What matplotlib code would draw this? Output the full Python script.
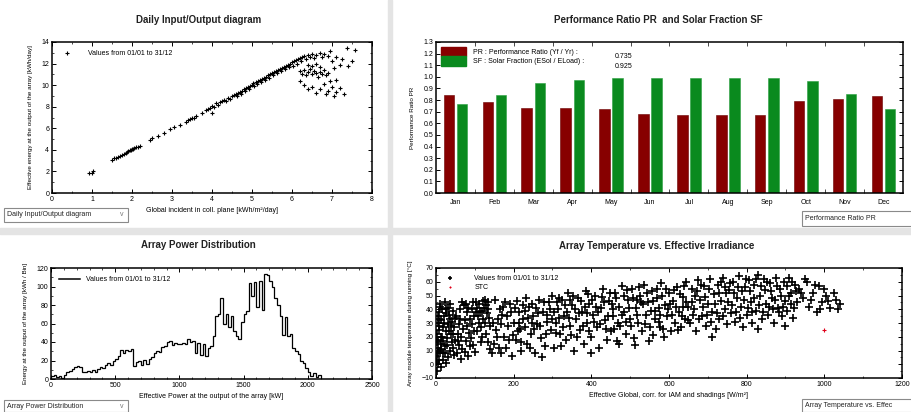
import numpy as np
import matplotlib
matplotlib.use('Agg')
import matplotlib.pyplot as plt
from matplotlib.patches import Patch, Rectangle
from matplotlib.lines import Line2D
from matplotlib.ticker import MultipleLocator, FormatStrFormatter

plt.rcParams['font.family'] = ['Liberation Sans', 'DejaVu Sans']

# ---- data ----
# daily input / output (kWh/m2/day, kWh/day)
io_pts = [(0.92, 1.85), (1.03, 2.0), (1.0, 1.9),
          (1.5, 3.1), (1.55, 3.2), (1.6, 3.25), (1.65, 3.35), (1.7, 3.4), (1.75, 3.5),
          (1.8, 3.6), (1.85, 3.75), (1.88, 3.8), (1.9, 3.9), (1.95, 4.0), (1.98, 3.95),
          (2.0, 4.1), (2.02, 4.05), (2.05, 4.2), (2.1, 4.25), (2.15, 4.3), (2.2, 4.4),
          (2.45, 4.9), (2.5, 5.1), (2.65, 5.3), (2.8, 5.6), (2.95, 5.9), (3.05, 6.1),
          (3.2, 6.3), (3.35, 6.6), (3.4, 6.75), (3.45, 6.85), (3.5, 7.0), (3.55, 6.95),
          (3.6, 7.1), (3.75, 7.4), (3.85, 7.7), (3.9, 7.8), (3.95, 7.9), (4.0, 8.1),
          (4.0, 7.4), (4.05, 8.0), (4.1, 8.3), (4.15, 8.2), (4.2, 8.45), (4.25, 8.5),
          (4.3, 8.6), (4.35, 8.55), (4.4, 8.8), (4.45, 8.7), (4.5, 9.0), (4.55, 9.1),
          (4.6, 9.2), (4.62, 9.0), (4.65, 9.3), (4.7, 9.4), (4.72, 9.2), (4.75, 9.5),
          (4.8, 9.6), (4.82, 9.45), (4.85, 9.7), (4.9, 9.8), (4.92, 9.6), (4.95, 9.9),
          (5.0, 10.0), (5.02, 10.2), (5.05, 9.9), (5.1, 10.3), (5.12, 10.1), (5.15, 10.4),
          (5.2, 10.5), (5.22, 10.3), (5.25, 10.6), (5.3, 10.7), (5.32, 10.5), (5.35, 10.8),
          (5.4, 10.9), (5.42, 10.7), (5.45, 11.0), (5.5, 11.1), (5.52, 10.9), (5.55, 11.2),
          (5.6, 11.3), (5.62, 11.1), (5.65, 11.4), (5.7, 11.5), (5.72, 11.3), (5.75, 11.6),
          (5.8, 11.7), (5.82, 11.5), (5.85, 11.8), (5.9, 11.9), (5.92, 11.7), (5.95, 12.0),
          (6.0, 12.1), (6.02, 11.8), (6.05, 12.2), (6.1, 12.3), (6.12, 12.0), (6.15, 12.4),
          (6.2, 12.5), (6.22, 12.2), (6.25, 12.6), (6.3, 12.7), (6.35, 12.4), (6.4, 12.8),
          (6.45, 12.6), (6.5, 12.9), (6.55, 12.5), (6.6, 12.8), (6.7, 13.0), (6.75, 12.6),
          (6.8, 12.9), (6.9, 12.7),
          (6.2, 11.3), (6.25, 11.0), (6.3, 11.4), (6.35, 10.9), (6.4, 11.2), (6.45, 11.5),
          (6.5, 11.0), (6.55, 11.3), (6.6, 11.1), (6.65, 10.8), (6.7, 11.2), (6.75, 11.0),
          (6.8, 11.4), (6.85, 10.9), (6.9, 11.1), (6.5, 11.8), (6.6, 12.0), (6.4, 11.9),
          (6.7, 11.7),
          (6.3, 10.0), (6.4, 9.6), (6.5, 9.8), (6.6, 9.3), (6.7, 9.6), (6.8, 10.1),
          (6.85, 9.2), (6.9, 9.5), (7.0, 9.8), (7.05, 9.0), (7.1, 9.4), (7.2, 9.7),
          (7.3, 9.2), (6.95, 10.4), (6.2, 10.4), (7.1, 10.5),
          (6.95, 13.2), (7.0, 12.2), (7.1, 12.6), (7.2, 11.9), (7.25, 12.4), (7.37, 13.4),
          (7.5, 12.2), (7.58, 13.25), (7.05, 11.6), (7.4, 11.8)]

# monthly performance ratio and solar fraction
months = ['Jan', 'Feb', 'Mar', 'Apr', 'May', 'Jun', 'Jul', 'Aug', 'Sep', 'Oct', 'Nov', 'Dec']
pr = [0.845, 0.78, 0.73, 0.73, 0.72, 0.68, 0.67, 0.67, 0.675, 0.795, 0.81, 0.838]
sf = [0.77, 0.845, 0.95, 0.975, 0.99, 0.99, 0.99, 0.99, 0.99, 0.965, 0.855, 0.72]
pr_year = '0.735'
sf_year = '0.925'

# array power distribution, 20 kW bins starting at 0
bin_width = 20
power_bins = [3, 4, 2, 3, 1, 4, 8, 9, 11, 13,
              14, 13, 8, 8, 9, 8, 10, 8, 11, 13,
              12, 15, 17, 15, 20, 22, 25, 31, 28, 31,
              30, 32, 14, 18, 19, 15, 21, 16, 22, 24,
              28, 30, 29, 35, 36, 40, 41, 37, 39, 38,
              38, 39, 38, 43, 40, 41, 28, 39, 26, 38,
              25, 34, 36, 46, 68, 70, 88, 60, 70, 56,
              68, 52, 46, 43, 62, 70, 74, 104, 90, 105,
              78, 106, 75, 113, 112, 106, 100, 88, 80, 68,
              48, 67, 47, 49, 34, 30, 27, 20, 17, 12,
              8, 3, 7, 2, 4]

# array temperature vs effective irradiance (W/m2, degC)
temp_pts = [(2, -5), (5, 0), (8, 3), (3, 6), (10, 10), (4, 12), (12, 15), (6, 18), (15, 20), (2, 22),
            (9, 25), (18, 27), (5, 30), (14, 32), (20, 35), (7, 38), (25, 40), (11, 42), (30, 5), (35, 10),
            (22, 13), (40, 16), (28, 19), (45, 22), (33, 24), (38, 28), (42, 31), (48, 34), (27, 37), (36, 44),
            (1, 2), (17, 8), (26, 1), (46, 7), (13, -2), (31, 29), (44, 39), (19, 17), (8, 33), (23, 45),
            (4, 35), (7, 28), (12, 20), (16, 40), (21, 30), (24, 8), (29, 14), (34, 36), (39, 22), (43, 12),
            (47, 27), (10, 44), (3, 16), (18, 3), (37, 33), (26, 24), (14, 11), (32, 41), (49, 18), (6, 8),
            (55, 8), (60, 14), (65, 20), (70, 26), (75, 32), (80, 38), (58, 29), (68, 11), (78, 17), (85, 23),
            (92, 29), (98, 35), (105, 41), (112, 44), (120, 46), (128, 43), (135, 40), (95, 45), (102, 38), (118, 39),
            (125, 47), (132, 37), (110, 30), (88, 13), (100, 9), (115, 16), (130, 22), (62, 40), (72, 43), (83, 6),
            (138, 28), (106, 24), (122, 33), (140, 11), (91, 19),
            (52, 35), (57, 22), (63, 33), (66, 45), (74, 9), (79, 28), (82, 41), (87, 33), (93, 40), (97, 24),
            (103, 45), (108, 35), (113, 38), (117, 27), (124, 41), (127, 30), (133, 45), (137, 34), (56, 17), (77, 44),
            (96, 14), (119, 20), (134, 16), (64, 4),
            (145, 8), (150, 15), (155, 25), (160, 33), (165, 40), (170, 36), (175, 20), (180, 12), (185, 28), (190, 44),
            (195, 6), (200, 30), (205, 18), (210, 24), (215, 38), (220, 10), (225, 33), (230, 27), (235, 15), (240, 42),
            (245, 22), (250, 35), (255, 8), (260, 29), (265, 47), (270, 19), (275, 38), (280, 13), (285, 31), (290, 45),
            (295, 25), (300, 50), (152, 47), (178, 45), (208, 46), (232, 48), (258, 41), (287, 36), (242, 12), (272, 5),
            (198, 21), (228, 39),
            (148, 30), (158, 20), (163, 12), (168, 29), (173, 42), (183, 35), (188, 18), (193, 38), (203, 41), (213, 30),
            (218, 16), (223, 43), (238, 34), (248, 44), (253, 26), (263, 37), (268, 28), (278, 45), (283, 22), (293, 40),
            (298, 33), (168, 8), (246, 30), (216, 26),
            (305, 12), (310, 30), (315, 40), (320, 22), (325, 47), (330, 35), (335, 18), (340, 52), (345, 28), (350, 43),
            (355, 10), (360, 33), (365, 48), (370, 25), (375, 38), (380, 15), (385, 53), (390, 30), (395, 44), (400, 20),
            (405, 36), (410, 50), (415, 27), (420, 12), (425, 41), (430, 55), (435, 32), (440, 18), (445, 46), (450, 24),
            (312, 45), (338, 38), (362, 20), (388, 37), (412, 42), (438, 26), (322, 13), (398, 8), (428, 49),
            (303, 38), (308, 23), (318, 48), (328, 27), (333, 43), (343, 34), (348, 21), (353, 50), (358, 40), (368, 37),
            (373, 46), (378, 28), (383, 42), (393, 24), (403, 47), (408, 31), (418, 38), (423, 29), (433, 45), (443, 35),
            (448, 52), (317, 34), (346, 47), (392, 51),
            (455, 35), (460, 52), (465, 17), (470, 42), (475, 28), (480, 57), (485, 38), (490, 22), (495, 47), (500, 33),
            (505, 55), (510, 19), (515, 41), (520, 30), (525, 50), (530, 24), (535, 58), (540, 36), (545, 45), (550, 27),
            (555, 53), (560, 21), (565, 39), (570, 48), (575, 31), (580, 59), (585, 26), (590, 43), (595, 35), (600, 52),
            (605, 24), (610, 46), (615, 30), (620, 56), (625, 38), (630, 27), (635, 49), (640, 33), (645, 60), (650, 42),
            (472, 15), (512, 14), (548, 17), (588, 20), (622, 25), (468, 30), (532, 44), (598, 40),
            (452, 44), (458, 26), (463, 48), (478, 36), (483, 50), (488, 31), (493, 54), (498, 41), (503, 28), (508, 48),
            (518, 36), (523, 56), (528, 45), (538, 29), (543, 52), (553, 39), (558, 46), (563, 33), (568, 55), (573, 41),
            (578, 36), (583, 50), (593, 55), (603, 44), (608, 36), (613, 54), (618, 42), (628, 51), (633, 35), (638, 57),
            (643, 45), (648, 32), (457, 40), (517, 47), (577, 27), (637, 42),
            (655, 30), (660, 55), (665, 40), (670, 24), (675, 61), (680, 47), (685, 35), (690, 57), (695, 28), (700, 44),
            (705, 62), (710, 38), (715, 51), (720, 26), (725, 58), (730, 33), (735, 46), (740, 63), (745, 40), (750, 29),
            (755, 54), (760, 37), (765, 60), (770, 31), (775, 48), (780, 64), (785, 42), (790, 27), (795, 56), (800, 36),
            (805, 61), (810, 45), (815, 30), (820, 58), (825, 39), (830, 65), (835, 50), (840, 33), (845, 62), (850, 44),
            (855, 36), (860, 59), (865, 48), (870, 30), (875, 63), (880, 41), (885, 55), (890, 35), (895, 60), (900, 46),
            (905, 39), (910, 63), (915, 52), (920, 34), (925, 58), (930, 45), (668, 50), (712, 20), (748, 52), (788, 53),
            (828, 26), (868, 40), (898, 28),
            (658, 45), (663, 36), (673, 53), (678, 33), (683, 58), (688, 42), (693, 49), (698, 36), (703, 55), (708, 31),
            (718, 44), (723, 37), (728, 52), (733, 60), (738, 35), (743, 56), (753, 45), (758, 59), (763, 43), (768, 52),
            (773, 38), (778, 56), (783, 34), (793, 47), (798, 62), (803, 41), (808, 53), (813, 38), (818, 48), (823, 62),
            (833, 43), (838, 57), (843, 38), (848, 54), (853, 60), (858, 42), (863, 53), (873, 47), (878, 57), (883, 38),
            (888, 50), (893, 42), (903, 57), (908, 50), (913, 44), (918, 60), (923, 41), (928, 53),
            (935, 55), (945, 48), (955, 60), (960, 42), (970, 52), (980, 38), (985, 57), (995, 45), (1005, 50), (1015, 41),
            (1030, 47), (1040, 44), (950, 62), (990, 40),
            (940, 52), (965, 47), (975, 58), (1000, 55), (1010, 46), (1025, 52), (1035, 40)]
stc_g = [1000]
stc_t = [25]

legend_txt = 'Values from 01/01 to 31/12'
W, H = 912, 412


def fr(x0, y0, x1, y1):
    # pixel box -> figure fraction rect
    return [x0 / W, 1 - y1 / H, (x1 - x0) / W, (y1 - y0) / H]


def style(ax):
    for s in ax.spines.values():
        s.set_linewidth(1.1)
    ax.tick_params(which='both', direction='in', top=True, right=True, labelsize=5, pad=2)
    ax.tick_params(which='major', length=3, width=0.7)
    ax.tick_params(which='minor', length=1.5, width=0.5)


fig = plt.figure(figsize=(9.12, 4.12), dpi=100)
fig.patch.set_facecolor('white')

# separators between the four panels
fig.add_artist(Rectangle((388 / W, 0), 4 / W, 1, transform=fig.transFigure, color='#e4e4e4', zorder=0))
fig.add_artist(Rectangle((0, 1 - 234 / H), 1, 6 / H, transform=fig.transFigure, color='#e4e4e4', zorder=0))

# ---- Daily input/output ----
ax1 = fig.add_axes(fr(52, 42, 372, 193))
gx, gy = zip(*io_pts)
ax1.plot(gx, gy, '+', color='black', ms=3.5, mew=0.8, label=legend_txt)
ax1.set_xlim(0, 8)
ax1.set_ylim(0, 14)
ax1.xaxis.set_major_locator(MultipleLocator(1))
ax1.yaxis.set_major_locator(MultipleLocator(2))
ax1.xaxis.set_minor_locator(MultipleLocator(0.5))
ax1.yaxis.set_minor_locator(MultipleLocator(1))
style(ax1)
ax1.set_xlabel('Global incident in coll. plane [kWh/m\u00b2/day]', fontsize=5, labelpad=3)
ax1.set_ylabel('Effective energy at the output of the array [kWh/day]', fontsize=4.5, labelpad=6)
ax1.legend(loc='upper left', frameon=False, fontsize=5, handletextpad=2, borderaxespad=0.8,
           markerscale=0.8)

# ---- PR and SF ----
ax2 = fig.add_axes(fr(436, 42, 903, 193))
xm = np.arange(len(months))
ax2.bar(xm - 0.17, pr, width=0.27, color='#870000', edgecolor='#6a0000', lw=0.4)
ax2.bar(xm + 0.17, sf, width=0.27, color='#0a8a1e', edgecolor='#2aa040', lw=0.4)
ax2.set_xlim(-0.5, 11.5)
ax2.set_ylim(0, 1.3)
ax2.set_xticks(xm)
ax2.set_xticklabels(months)
ax2.set_xticks(xm[:-1] + 0.5, minor=True)
ax2.yaxis.set_major_locator(MultipleLocator(0.1))
ax2.yaxis.set_major_formatter(FormatStrFormatter('%.1f'))
style(ax2)
ax2.tick_params(axis='x', which='major', length=0, pad=4)
ax2.tick_params(axis='x', which='minor', length=3)
ax2.set_ylabel('Performance Ratio PR', fontsize=4.5, labelpad=6)
hnd = [Patch(color='#870000'), Patch(color='#0a8a1e')]
ax2.legend(hnd, ['PR : Performance Ratio (Yf / Yr) :', 'SF : Solar Fraction (ESol / ELoad) :'],
           loc='upper left', frameon=False, fontsize=5, handlelength=3.6, handleheight=1.7,
           labelspacing=0, handletextpad=1.0, borderaxespad=0.3)
ax2.text(0.383, 0.905, pr_year, transform=ax2.transAxes, fontsize=5, va='center')
ax2.text(0.383, 0.838, sf_year, transform=ax2.transAxes, fontsize=5, va='center')

# ---- Array power distribution ----
ax3 = fig.add_axes(fr(51, 268, 372, 379))
edges = np.arange(len(power_bins) + 1) * bin_width
ax3.stairs(power_bins, edges, color='black', lw=0.9, label=legend_txt)
ax3.set_xlim(0, 2500)
ax3.set_ylim(0, 120)
ax3.xaxis.set_major_locator(MultipleLocator(500))
ax3.xaxis.set_minor_locator(MultipleLocator(100))
ax3.yaxis.set_major_locator(MultipleLocator(20))
ax3.yaxis.set_minor_locator(MultipleLocator(10))
style(ax3)
ax3.set_xlabel('Effective Power at the output of the array [kW]', fontsize=5, labelpad=3)
ax3.set_ylabel('Energy at the output of the array [kWh / Bin]', fontsize=4.5, labelpad=6)
ax3.legend(handles=[Line2D([], [], color='black', lw=1.1)], labels=[legend_txt],
           loc='upper left', frameon=False, fontsize=5, handlelength=3, borderaxespad=0.8)

# ---- Array temperature vs effective irradiance ----
ax4 = fig.add_axes(fr(436, 268, 902, 378))
tg, tt = zip(*temp_pts)
ax4.plot(tg, tt, '+', color='black', ms=6, mew=1.2, label=legend_txt)
ax4.plot(stc_g, stc_t, '+', color='#e0001a', ms=3.5, mew=0.8, label='STC')
ax4.set_xlim(0, 1200)
ax4.set_ylim(-10, 70)
ax4.xaxis.set_major_locator(MultipleLocator(200))
ax4.xaxis.set_minor_locator(MultipleLocator(100))
ax4.yaxis.set_major_locator(MultipleLocator(10))
ax4.yaxis.set_minor_locator(MultipleLocator(5))
style(ax4)
ax4.set_xlabel('Effective Global, corr. for IAM and shadings [W/m\u00b2]', fontsize=5, labelpad=3)
ax4.set_ylabel('Array module temperature during running [\u00b0C]', fontsize=4.5, labelpad=6)
ax4.legend(loc='upper left', frameon=False, fontsize=5, handletextpad=2.5, borderaxespad=0.6,
           labelspacing=0.3, markerscale=0.5)

# ---- panel titles ----
tkw = dict(fontsize=7, fontweight='bold', ha='center', va='center', color='#222222')
fig.text(199 / W, 1 - 20 / H, 'Daily Input/Output diagram', **tkw)
fig.text(658 / W, 1 - 20 / H, 'Performance Ratio PR  and Solar Fraction SF', **tkw)
fig.text(198 / W, 1 - 245 / H, 'Array Power Distribution', **tkw)
fig.text(657 / W, 1 - 246 / H, 'Array Temperature vs. Effective Irradiance', **tkw)

# ---- selector boxes ----
boxes = [((4, 208, 128, 222), 'Daily Input/Output diagram'),
         ((802, 211, 912, 226), 'Performance Ratio PR'),
         ((4, 400, 128, 412), 'Array Power Distribution'),
         ((802, 399, 912, 412), 'Array Temperature vs. Effec')]
for (x0, y0, x1, y1), txt in boxes:
    fig.add_artist(Rectangle((x0 / W, 1 - y1 / H), (x1 - x0) / W, (y1 - y0) / H,
                             transform=fig.transFigure, fc='white', ec='#8a8a8a', lw=0.8))
    fig.text((x0 + 3) / W, 1 - (y0 + y1) / 2 / H, txt, fontsize=5, va='center', color='#222222')
    if x1 < 200:
        fig.text((x1 - 8) / W, 1 - (y0 + y1) / 2 / H, 'v', fontsize=5, va='center', color='#777777')

fig.savefig('out.png', dpi=100)
